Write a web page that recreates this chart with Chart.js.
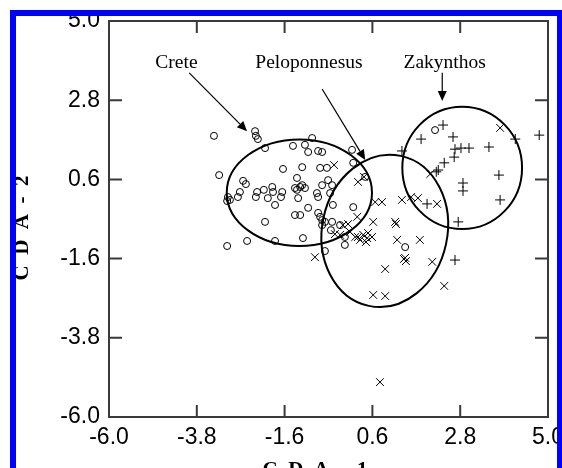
<!DOCTYPE html>
<html>
<head>
<meta charset="utf-8">
<script src="https://cdn.jsdelivr.net/npm/chart.js@4.4.1/dist/chart.umd.min.js"></script>
<style>
  html, body { margin: 0; padding: 0; background: #fff; }
</style>
</head>
<body>
<canvas id="cda" width="562" height="468"></canvas>
<script>
// axis ticks (CDA-1 on x, CDA-2 on y)
const xTicks = [-6.0, -3.8, -1.6, 0.6, 2.8, 5.0];
const yTicks = [-6.0, -3.8, -1.6, 0.6, 2.8, 5.0];

// Crete - open circles
const creteX = [-3.37, -2.34, -2.32, -2.27, -2.09, -1.39, -1.09, -0.91, -1.01, -0.76,
  -0.66, -1.64, -3.24, -1.16, -0.71, -0.54, -1.29, -2.64, -2.57, -2.72,
  -2.77, -3.02, -3.04, -2.97, -2.29, -2.32, -2.12, -1.91, -1.89, -2.02,
  -1.66, -1.69, -1.84, -2.09, -1.29, -1.26, -1.16, -1.34, -1.21, -3.04,
  -2.54, -1.84, -1.14, -1.21, -1.09, -0.66, -0.51, -0.41, -0.79, -0.76,
  -0.46, -1.01, -0.76, -0.71, -0.66, -0.39, 0.12, -0.59, -0.66, -0.41,
  -0.44, -0.21, -0.09, -0.09, -0.59, 0.09, 0.12, 0.42, 1.42, 2.17, -1.34];
const creteY = [1.81, 1.94, 1.81, 1.72, 1.47, 1.53, 1.56, 1.75, 1.36, 1.39,
  1.36, 0.89, 0.72, 0.94, 0.92, 0.92, 0.64, 0.56, 0.47, 0.25,
  0.11, 0.11, 0.00, 0.03, 0.25, 0.11, 0.31, 0.39, 0.25, 0.08,
  0.25, 0.11, -0.11, -0.58, 0.31, 0.08, 0.44, -0.39, -0.39, -1.25,
  -1.11, -1.11, -1.03, 0.39, 0.36, 0.44, 0.58, 0.44, 0.22, 0.11,
  0.22, -0.19, -0.33, -0.44, -0.53, -0.11, -0.17, -0.58, -0.67, -0.58,
  -0.81, -0.67, -1.00, -1.22, -1.39, 1.42, 1.06, 0.67, -1.28, 1.97, 0.36];

// Peloponnesus - x marks
const pelopX = [-0.36, 0.24, 0.39, 0.67, 0.84, 1.34, 1.57, 1.74, 2.22, 0.22,
  0.62, 1.17, 1.19, -0.01, -0.14, -0.34, -0.21, 0.04, 0.17, 0.24,
  0.37, 0.47, 0.59, 0.49, 0.44, 0.29, 1.22, 1.79, 1.42, 1.44,
  1.39, 2.10, 0.92, 2.40, 0.62, 0.92, 0.79, -0.84, 3.80, 2.05];
const pelopY = [1.00, 0.53, 0.67, -0.03, -0.03, 0.03, 0.11, 0.08, -0.08, -0.44,
  -0.58, -0.58, -0.64, -0.64, -0.67, -0.92, -0.94, -0.86, -1.00, -1.00,
  -0.94, -1.03, -1.00, -0.89, -1.14, -1.08, -1.08, -1.08, -1.58, -1.67,
  -1.61, -1.69, -1.89, -2.36, -2.61, -2.64, -5.03, -1.56, 2.03, 0.75];

// Zakynthos - plus marks
const zakX = [2.37, 1.82, 2.62, 2.67, 2.82, 3.02, 3.52, 4.18, 4.78, 1.34,
  2.65, 2.40, 2.25, 2.20, 2.87, 2.87, 3.77, 3.80, 2.75, 1.97, 2.67];
const zakY = [2.11, 1.72, 1.78, 1.44, 1.47, 1.47, 1.50, 1.72, 1.83, 1.39,
  1.22, 1.06, 0.86, 0.81, 0.50, 0.28, 0.72, 0.03, -0.58, -0.08, -1.64];

// group ellipses (Crete, Peloponnesus, Zakynthos), data units
const ellipseCx = [-1.23, 0.91, 2.85];
const ellipseCy = [0.23, -0.83, 0.92];
const ellipseRx = [1.82, 1.57, 1.50];
const ellipseRy = [1.48, 2.13, 1.70];
const ellipseAngle = [0, 12, 0]; // degrees

// group labels with arrows
const groupNames = ['Crete', 'Peloponnesus', 'Zakynthos'];
const labelAt = [[-4.31, 3.69], [-0.99, 3.69], [2.41, 3.69]];
const arrowFrom = [[-3.99, 3.56], [-0.66, 3.11], [2.35, 3.56]];
const arrowTo = [[-2.54, 1.94], [0.42, 1.14], [2.35, 2.78]];

const pts = (xs, ys) => xs.map((x, i) => ({ x: x, y: ys[i] }));

function zeroPad(s) {
  s.paddingLeft = 0; s.paddingRight = 0; s.paddingTop = 0; s.paddingBottom = 0;
}

function arrow(ctx, x1, y1, x2, y2) {
  const ang = Math.atan2(y2 - y1, x2 - x1);
  const len = 10, half = 4.5;
  const bx = x2 - len * Math.cos(ang), by = y2 - len * Math.sin(ang);
  ctx.beginPath();
  ctx.moveTo(x1, y1);
  ctx.lineTo(bx, by);
  ctx.stroke();
  ctx.beginPath();
  ctx.moveTo(x2, y2);
  ctx.lineTo(bx + half * Math.sin(ang), by - half * Math.cos(ang));
  ctx.lineTo(bx - half * Math.sin(ang), by + half * Math.cos(ang));
  ctx.closePath();
  ctx.fill();
}

const overlay = {
  id: 'overlay',
  afterDatasetsDraw(chart) {
    const ctx = chart.ctx, xs = chart.scales.x, ys = chart.scales.y, a = chart.chartArea;
    ctx.save();

    // ellipses
    ctx.strokeStyle = '#000';
    ctx.lineWidth = 2;
    ellipseCx.forEach((cx, i) => {
      const px = xs.getPixelForValue(cx), py = ys.getPixelForValue(ellipseCy[i]);
      const rx = Math.abs(xs.getPixelForValue(cx + ellipseRx[i]) - px);
      const ry = Math.abs(ys.getPixelForValue(ellipseCy[i] + ellipseRy[i]) - py);
      ctx.beginPath();
      ctx.ellipse(px, py, rx, ry, ellipseAngle[i] * Math.PI / 180, 0, 2 * Math.PI);
      ctx.stroke();
    });

    // group names + arrows
    ctx.fillStyle = '#000';
    ctx.font = '19.5px "Liberation Serif", "Times New Roman", serif';
    ctx.textAlign = 'center';
    ctx.textBaseline = 'alphabetic';
    groupNames.forEach((name, i) => {
      ctx.fillText(name, xs.getPixelForValue(labelAt[i][0]), ys.getPixelForValue(labelAt[i][1]));
    });
    ctx.lineWidth = 1.2;
    arrowFrom.forEach((f, i) => {
      arrow(ctx, xs.getPixelForValue(f[0]), ys.getPixelForValue(f[1]),
        xs.getPixelForValue(arrowTo[i][0]), ys.getPixelForValue(arrowTo[i][1]));
    });

    // plot box with inward ticks on all four sides
    ctx.strokeStyle = '#3a3a3a';
    ctx.lineWidth = 2;
    ctx.strokeRect(a.left, a.top, a.right - a.left, a.bottom - a.top);
    ctx.beginPath();
    xs.ticks.forEach(t => {
      const p = xs.getPixelForValue(t.value);
      ctx.moveTo(p, a.bottom); ctx.lineTo(p, a.bottom - 12);
      ctx.moveTo(p, a.top); ctx.lineTo(p, a.top + 12);
    });
    ys.ticks.forEach(t => {
      const p = ys.getPixelForValue(t.value);
      ctx.moveTo(a.left, p); ctx.lineTo(a.left + 13, p);
      ctx.moveTo(a.right, p); ctx.lineTo(a.right - 13, p);
    });
    ctx.stroke();
    ctx.restore();
  },
  afterDraw(chart) {
    const ctx = chart.ctx;
    ctx.save();
    // axis titles
    ctx.fillStyle = '#000';
    ctx.font = 'bold 21px "Liberation Serif", "Times New Roman", serif';
    ctx.textAlign = 'center';
    ctx.textBaseline = 'alphabetic';
    ctx.fillText('C  D  A  -  1', 315, 476);
    ctx.translate(28, 228);
    ctx.rotate(-Math.PI / 2);
    ctx.fillText('C  D  A  -  2', 0, 0);
    ctx.restore();

    // blue frame
    ctx.save();
    ctx.fillStyle = '#0000fe';
    ctx.fillRect(10, 10, 552, 6);
    ctx.fillRect(10, 10, 6, 458);
    ctx.fillRect(557, 10, 5, 458);
    ctx.restore();
  }
};

const tickFont = { family: '"Liberation Sans", Arial, sans-serif', size: 23 };

new Chart(document.getElementById('cda'), {
  type: 'scatter',
  data: {
    datasets: [
      { label: 'Crete', data: pts(creteX, creteY), pointStyle: 'circle', pointRadius: 3.5,
        borderColor: '#000', backgroundColor: 'rgba(0,0,0,0)', borderWidth: 1 },
      { label: 'Peloponnesus', data: pts(pelopX, pelopY), pointStyle: 'crossRot', pointRadius: 5.5,
        borderColor: '#000', backgroundColor: '#000', borderWidth: 1 },
      { label: 'Zakynthos', data: pts(zakX, zakY), pointStyle: 'cross', pointRadius: 5,
        borderColor: '#000', backgroundColor: '#000', borderWidth: 1 }
    ]
  },
  options: {
    responsive: false,
    animation: false,
    devicePixelRatio: 1,
    layout: { padding: { left: 0, top: 21, right: 14, bottom: 0 }, autoPadding: false },
    plugins: { legend: { display: false }, tooltip: { enabled: false } },
    scales: {
      x: {
        type: 'linear', min: -6, max: 5,
        afterBuildTicks: s => { s.ticks = xTicks.map(v => ({ value: v })); },
        afterFit: s => { s.height = 51; zeroPad(s); },
        grid: { display: false, drawTicks: false },
        border: { display: false },
        ticks: { padding: 7, font: tickFont, color: '#000', maxRotation: 0, autoSkip: false,
          callback: v => Number(v).toFixed(1) }
      },
      y: {
        type: 'linear', min: -6, max: 5,
        afterBuildTicks: s => { s.ticks = yTicks.map(v => ({ value: v })); },
        afterFit: s => { s.width = 109; zeroPad(s); },
        grid: { display: false, drawTicks: false },
        border: { display: false },
        ticks: { padding: 9, font: tickFont, color: '#000', autoSkip: false,
          callback: v => Number(v).toFixed(1) }
      }
    }
  },
  plugins: [overlay]
});
</script>
</body>
</html>
